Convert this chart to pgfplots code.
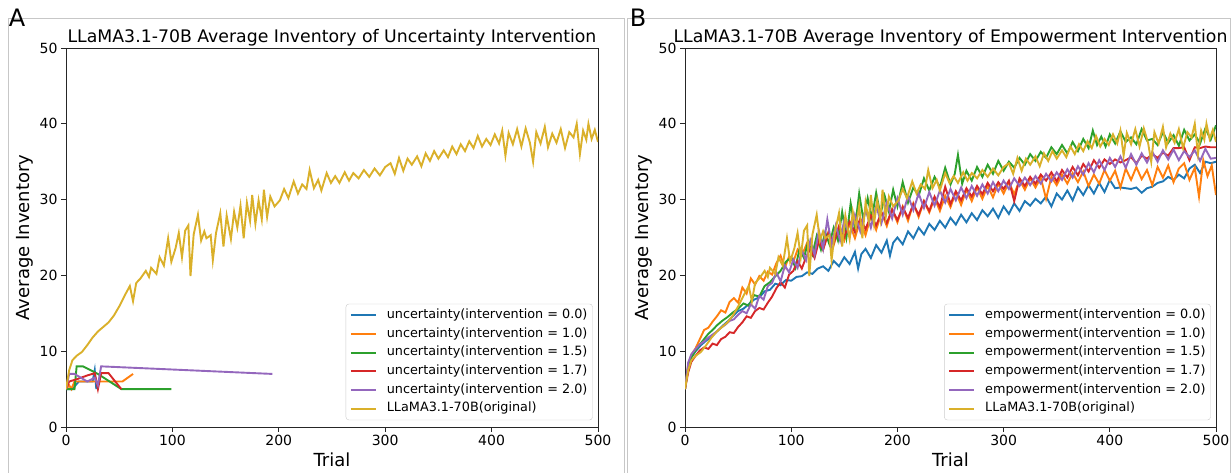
\documentclass[border=0pt]{standalone}
\usepackage{fontspec}
\setmainfont{DejaVu Sans}
\usepackage{pgfplots}
\usepackage{pgfplotstable}
\pgfplotsset{compat=1.18}

\definecolor{tabblue}{HTML}{1F77B4}
\definecolor{taborange}{HTML}{FF7F0E}
\definecolor{tabgreen}{HTML}{2CA02C}
\definecolor{tabred}{HTML}{D62728}
\definecolor{tabpurple}{HTML}{9467BD}
\definecolor{gold}{HTML}{DAB02A}

% LLaMA3.1-70B (original), shared by both panels
\pgfplotstableread{
x y
0 5.0
3 7.5
6 8.8
10 9.4
15 9.9
20 10.8
25 11.8
30 12.6
35 13.2
40 13.8
45 14.7
50 15.9
55 17.3
60 18.6
63 16.6
66 19.0
70 19.6
75 20.6
78 19.8
80 21.0
85 20.2
88 22.4
92 21.3
96 24.9
99 21.8
103 23.6
106 25.6
109 22.4
112 25.9
115 26.6
117 19.9
120 25.4
124 28.0
127 24.6
130 25.8
132 24.9
136 25.3
138 22.0
141 25.6
145 28.2
148 23.8
151 27.9
155 24.8
158 28.4
161 26.3
164 29.2
167 24.9
170 29.6
173 27.2
175 30.6
178 26.8
181 29.9
184 27.4
186 31.3
189 27.7
192 30.4
196 29.1
201 29.9
205 31.4
209 30.2
214 32.4
218 30.8
222 32.0
226 31.4
229 33.9
233 31.5
237 32.6
240 31.2
245 33.5
249 32.2
253 33.1
257 32.2
262 33.6
266 32.5
270 33.5
275 32.8
280 33.9
285 33.0
290 34.1
295 33.2
300 34.3
305 34.8
309 33.4
313 35.5
317 33.8
321 35.4
325 34.6
330 35.7
334 34.4
338 36.1
342 35.1
346 36.4
350 35.4
355 36.5
359 35.6
363 37.0
367 36.0
371 37.3
375 36.4
379 37.7
383 36.8
387 38.4
391 37.0
395 38.0
399 37.2
403 38.6
407 37.4
410 39.1
413 35.8
416 38.8
420 37.3
424 39.3
428 37.0
432 39.4
436 37.5
439 35.0
442 38.9
446 37.4
450 39.6
453 36.9
457 38.7
461 37.5
465 39.3
469 36.8
473 38.9
477 38.2
480 40.0
483 36.0
486 39.1
489 37.9
491 40.0
494 38.0
497 39.2
500 37.6
}\original

\pgfplotstableread{
x y
0 5.0
3 7.8
6 9.2
10 10.0
15 10.8
20 11.4
25 11.9
30 12.6
35 13.3
40 13.9
45 14.6
50 15.3
55 15.6
60 16.2
65 16.8
70 17.1
75 17.9
80 18.1
85 18.9
90 18.7
95 19.4
100 19.3
105 19.8
110 19.9
115 20.4
120 20.2
125 20.9
130 21.2
135 20.6
140 21.9
145 21.2
150 22.4
155 21.5
160 23.1
163 20.9
166 22.8
170 23.5
175 22.3
180 24.0
185 23.0
190 24.6
193 22.6
196 24.3
200 25.0
205 24.1
210 25.8
215 24.9
220 26.3
225 25.4
230 26.8
235 26.0
240 27.2
245 26.3
250 27.6
255 26.7
260 28.0
265 27.0
270 28.2
275 27.3
280 28.6
285 27.8
290 28.8
295 27.6
300 29.1
305 28.1
310 29.5
315 28.5
320 29.8
325 29.2
330 30.1
335 29.5
340 30.4
345 29.1
350 30.8
355 30.0
360 31.2
365 29.9
370 31.6
375 30.6
380 31.9
385 30.8
390 32.2
395 31.0
400 32.6
405 31.5
410 31.6
415 31.5
420 31.4
425 31.6
430 30.9
435 31.5
440 31.7
445 32.2
450 32.4
455 33.0
460 32.6
465 33.3
470 32.8
475 34.1
480 34.6
485 33.5
490 35.0
495 34.8
500 35.0
}\empzero

\pgfplotstableread{
x y
0 5.0
3 8.2
6 9.5
10 10.4
14 11.6
18 12.8
22 13.1
26 13.9
30 14.6
34 15.4
38 15.1
42 16.5
46 17.0
50 16.4
54 18.4
58 17.6
62 19.6
66 18.8
70 19.9
74 19.3
78 20.5
82 20.1
86 21.6
90 22.6
94 21.0
98 22.5
102 21.8
106 23.4
110 22.6
115 24.3
120 22.8
125 25.0
130 23.4
135 25.7
140 24.0
145 26.4
150 24.6
155 26.8
160 24.9
165 27.3
170 25.3
175 27.8
180 26.0
185 28.3
190 26.5
195 28.7
200 27.0
205 29.1
210 27.2
215 29.5
220 27.7
225 29.8
230 28.3
235 30.2
240 28.5
245 30.5
250 29.0
255 31.0
260 29.3
265 31.3
270 29.8
275 31.6
280 30.1
285 31.8
290 30.3
295 32.1
300 30.8
305 32.3
310 30.7
315 32.6
320 31.3
325 32.8
330 31.6
335 32.9
340 30.1
345 33.0
350 31.9
355 33.3
360 32.1
365 33.5
370 32.3
375 33.7
380 31.8
385 33.3
390 32.1
395 33.9
400 32.5
405 33.8
410 31.6
415 34.1
420 32.6
425 34.3
430 32.7
435 33.9
440 31.9
445 34.3
450 32.9
455 34.5
460 32.3
465 34.1
470 34.8
475 32.6
480 34.2
484 30.4
488 35.2
492 33.1
496 34.5
500 30.6
}\empone

\pgfplotstableread{
x y
0 5.0
3 7.9
6 9.2
10 10.1
14 10.9
18 11.6
22 12.3
26 12.8
30 13.4
35 14.0
40 14.5
45 15.1
50 15.6
55 16.3
60 16.0
65 17.4
70 17.2
75 18.6
80 19.1
85 19.9
90 20.6
95 21.8
100 22.4
104 21.0
108 23.6
112 22.3
116 24.5
120 22.8
124 25.2
128 23.4
132 25.7
136 24.1
140 26.3
144 24.6
148 28.4
152 25.0
156 29.5
160 26.2
164 30.8
168 27.3
172 30.2
176 27.6
180 30.9
184 28.0
188 30.5
192 28.4
196 31.3
200 29.1
205 32.3
210 29.6
215 31.6
220 30.5
225 32.8
230 31.2
235 33.0
240 31.6
245 34.2
250 32.0
254 33.4
257 35.9
261 32.1
265 33.8
270 32.5
275 34.3
280 33.0
285 34.6
290 33.4
295 35.1
300 33.8
305 35.0
310 34.2
315 35.5
320 34.6
325 36.0
330 35.1
335 36.3
340 35.5
345 36.9
350 36.0
355 37.2
360 36.1
365 37.6
370 36.4
375 38.0
380 36.8
384 39.1
388 37.2
392 38.3
396 37.0
400 38.6
405 37.4
410 39.0
415 37.6
420 38.2
425 37.3
430 39.3
435 37.8
440 38.0
445 37.2
450 38.9
455 37.5
460 38.5
465 37.1
470 39.2
475 37.8
480 38.6
485 37.4
490 39.4
495 37.9
500 39.8
}\empfifteen

\pgfplotstableread{
x y
0 5.0
3 7.2
6 8.6
10 9.4
14 10.1
18 10.5
22 10.3
26 11.0
30 10.8
34 11.6
38 11.9
42 12.5
46 12.4
50 13.2
54 13.8
58 14.6
62 14.4
66 15.3
70 15.7
74 15.5
78 16.4
82 17.2
86 18.3
90 19.1
94 18.4
98 20.1
102 20.6
106 21.9
110 20.9
114 22.4
118 23.5
122 22.3
126 24.5
130 23.4
135 25.6
140 24.2
145 26.5
150 25.1
155 27.1
160 25.7
165 27.5
170 26.1
175 27.9
180 26.6
185 28.3
190 26.9
195 28.7
200 27.3
205 29.0
210 27.6
215 29.4
220 28.0
225 29.8
230 28.5
235 30.4
240 29.0
245 31.7
250 29.4
255 31.1
260 29.9
265 31.5
270 30.4
275 31.8
280 30.7
285 32.2
290 31.1
295 32.3
300 31.4
305 32.5
310 29.8
315 32.8
320 31.8
325 33.0
330 32.1
335 33.3
340 32.5
345 33.6
350 32.4
355 33.9
360 32.9
365 34.3
370 33.2
375 34.7
380 33.7
385 35.2
390 34.2
395 35.3
400 34.7
405 35.3
410 34.9
415 35.2
420 35.6
425 34.8
430 35.8
435 35.4
440 36.0
445 35.5
450 36.2
455 35.8
460 36.8
465 36.8
470 36.9
475 35.2
480 36.9
485 36.8
490 37.0
495 36.9
500 36.9
}\empseventeen

\pgfplotstableread{
x y
0 5.0
3 8.5
6 9.6
10 10.3
14 10.9
18 11.3
22 11.8
26 12.2
30 12.6
34 13.1
38 13.5
42 14.0
46 14.2
50 14.8
54 15.3
58 15.0
62 16.2
66 15.6
70 17.3
74 16.8
78 18.6
82 19.0
86 20.4
90 19.2
94 21.3
98 20.4
102 22.1
106 21.0
110 23.3
114 22.0
118 24.6
122 22.7
126 25.9
130 23.5
134 27.4
138 24.0
142 26.6
146 24.6
150 27.3
155 25.1
160 28.0
165 25.8
170 28.7
175 26.3
180 29.1
185 26.9
190 29.6
195 27.5
200 30.2
205 28.0
210 30.5
215 28.6
220 30.8
225 28.9
230 31.0
235 29.2
240 31.2
245 29.6
250 31.4
255 29.9
260 31.6
265 30.2
270 31.8
275 30.5
280 32.0
285 30.8
290 32.3
295 31.1
300 32.5
305 31.4
310 32.8
315 31.8
320 32.9
325 31.9
330 33.1
335 32.1
340 33.4
345 32.4
350 33.6
355 32.6
360 34.0
365 32.9
370 34.4
375 33.3
380 34.8
385 33.6
390 35.2
395 33.9
400 35.5
405 34.3
410 35.7
415 34.2
420 36.0
425 34.6
430 36.1
435 34.9
440 36.3
445 35.0
450 36.5
455 35.3
460 36.6
465 35.2
470 36.4
475 35.6
480 36.5
485 35.1
490 36.7
495 35.4
500 35.5
}\emptwo

\pgfplotsset{
  ser/.style={line width=1.9pt},
  panel/.style={
    scale only axis,
    height=379pt,
    xmin=0, xmax=500, ymin=0, ymax=50,
    xtick={0,100,...,500}, ytick={0,10,...,50},
    axis line style={line width=0.9pt, black!85},
    tick style={line width=0.9pt, black!85},
    tick align=outside, xtick pos=bottom, ytick pos=left,
    major tick length=5pt,
    ticklabel style={font=\fontsize{14}{16}\selectfont},
    /pgf/number format/assume math mode=true,
    label style={font=\fontsize{18}{20}\selectfont},
    xlabel={Trial}, ylabel={Average Inventory},
    title style={font=\fontsize{17.3}{19}\selectfont, yshift=-8pt},
    legend cell align=left,
    legend style={at={(0.99,0.018)}, anchor=south east,
      draw=black!20, rounded corners=3pt, fill=white,
      font=\fontsize{12.8}{15}\selectfont, row sep=4.2pt,
      inner sep=4pt,
      nodes={inner sep=1pt, text height=9.5pt, text depth=3pt}},
    legend image code/.code={\draw[##1] (0pt,0pt) -- (25pt,0pt);
      \path (34pt,0pt);},
  }
}

\begin{document}
\begin{tikzpicture}[x=1pt, y=1pt]
\useasboundingbox (0,0) rectangle (1231,473);
\draw[black!22, line width=0.8pt] (8,0) -- (8,455) -- (624,455) -- (624,0);
\draw[black!22, line width=0.8pt] (627,0) -- (627,455) -- (1230,455) -- (1230,0);
\node[font=\fontsize{24}{26}\selectfont] at (17,455) {A};
\node[font=\fontsize{24}{26}\selectfont] at (638,455) {B};

\begin{axis}[panel, at={(66pt,46pt)}, anchor=south west, width=532pt,
  title={LLaMA3.1-70B Average Inventory of Uncertainty Intervention}]
\addplot[ser, tabblue] coordinates {(0,5) (6,5) (12,6) (18,6) (25,6) (27,7.5) (28.5,5)};
\addlegendentry{uncertainty(intervention = 0.0)}
\addplot[ser, taborange] coordinates {(0,5) (3,5.5) (5,5) (8,6) (15,6) (30,6) (40,6) (53,6) (58,6.5) (63,7)};
\addlegendentry{uncertainty(intervention = 1.0)}
\addplot[ser, tabgreen] coordinates {(0,5) (8,5) (10,8) (16,8) (30,7) (52,5) (99,5)};
\addlegendentry{uncertainty(intervention = 1.5)}
\addplot[ser, tabred] coordinates {(0,5) (3,6) (10,6.3) (20,6.8) (27,7.1) (30,5) (33,7.1) (40,7.1) (52,5)};
\addlegendentry{uncertainty(intervention = 1.7)}
\addplot[ser, tabpurple] coordinates {(0,5) (3,7) (8,7) (20,6) (27,6.5) (30,5.5) (33,8) (194,7)};
\addlegendentry{uncertainty(intervention = 2.0)}
\addplot[ser, gold] table {\original};
\addlegendentry{LLaMA3.1-70B(original)}
\end{axis}

\begin{axis}[panel, at={(685pt,46pt)}, anchor=south west, width=531pt,
  title={LLaMA3.1-70B Average Inventory of Empowerment Intervention}]
\addplot[ser, tabblue] table {\empzero};
\addlegendentry{empowerment(intervention = 0.0)}
\addplot[ser, taborange] table {\empone};
\addlegendentry{empowerment(intervention = 1.0)}
\addplot[ser, tabgreen] table {\empfifteen};
\addlegendentry{empowerment(intervention = 1.5)}
\addplot[ser, tabred] table {\empseventeen};
\addlegendentry{empowerment(intervention = 1.7)}
\addplot[ser, tabpurple] table {\emptwo};
\addlegendentry{empowerment(intervention = 2.0)}
\addplot[ser, gold] table {\original};
\addlegendentry{LLaMA3.1-70B(original)}
\end{axis}
\end{tikzpicture}
\end{document}
